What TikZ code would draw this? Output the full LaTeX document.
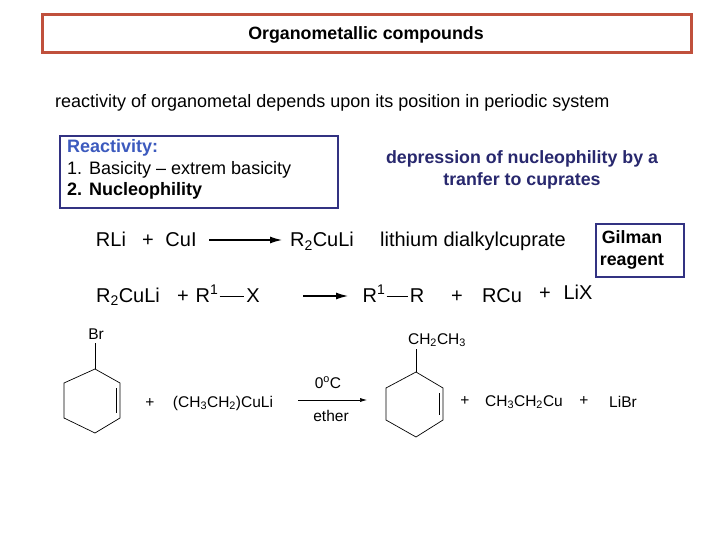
\documentclass[tikz,border=0pt]{standalone}
\usepackage{fontspec}
\setmainfont{Liberation Sans}
\usetikzlibrary{calc,arrows.meta}
\begin{document}
\begin{tikzpicture}[x=1pt,y=-1pt,
  chem/.style={font=\fontsize{20}{24}\selectfont, inner sep=0pt, text height=14pt, text depth=4pt},
  sm/.style={font=\fontsize{15.5}{18}\selectfont, inner sep=0pt, text height=11pt, text depth=3pt},
  txt/.style={font=\fontsize{18}{22}\selectfont, inner sep=0pt},
  bnd/.style={line width=0.7pt},
  arr/.style={line width=1.2pt,-{Latex[length=12pt,width=7pt]}}]
\useasboundingbox (0,0) rectangle (720,540);
\fill[white] (0,0) rectangle (720,540);
% title
\draw[draw={rgb,255:red,192;green,80;blue,60}, line width=3pt, fill={rgb,255:red,255;green,255;blue,255}] (42,15) rectangle (691,53);
\node[font=\bfseries\fontsize{17.8}{21}\selectfont] (title) at (366,35) {Organometallic compounds};
\node[txt, anchor=west] (intro) at (55,103) {reactivity of organometal depends upon its position in periodic system};
% reactivity box
\draw[draw={rgb,255:red,50;green,50;blue,130}, line width=1.5pt] (60,136) rectangle (338,208);
\node[txt, anchor=west, text={rgb,255:red,60;green,90;blue,190}, font=\bfseries\fontsize{18}{22}\selectfont] (r0) at (67,148) {Reactivity:};
\node[txt, anchor=west] (r1) at (67,170) {1.\hspace{7pt}Basicity -- extrem basicity};
\node[txt, anchor=west, font=\bfseries\fontsize{18}{22}\selectfont] (r2) at (67,191) {2.\hspace{7pt}Nucleophility};
\node[align=center, text={rgb,255:red,40;green,40;blue,110}, font=\bfseries\fontsize{17.8}{22}\selectfont] (dep) at (522,170) {depression of nucleophility by a\\tranfer to cuprates};
% Gilman
\draw[draw={rgb,255:red,50;green,50;blue,130}, line width=1.5pt] (596,224) rectangle (684,277);
\node[align=center, font=\bfseries\fontsize{17.8}{22}\selectfont] (gil) at (632,250) {Gilman\\reagent};
% eq1
\node[chem] (a1) at (111,242) {RLi};
\node[chem] (p1) at (148,242) {+};
\node[chem] (a2) at (181,242) {CuI};
\coordinate (s1) at (209,240); \coordinate (e1) at (282,240);
\draw[arr] (s1) -- (e1);
\node[chem] (a3) at (322,242) {R\textsubscript{2}CuLi};
\node[chem] (a4) at (473,242) {lithium dialkylcuprate};
% eq2
\node[chem] (b1) at (128,297) {R\textsubscript{2}CuLi};
\node[chem] (p2) at (183,297) {+};
\node[chem] (b2) at (207,297) {R\textsuperscript{1}};
\node[chem] (b3) at (253,297) {X};
\draw[bnd] ($(b2.east)+(1,-1)$) -- ($(b3.west)+(-2,-1)$);
\coordinate (s2) at (303,296); \coordinate (e2) at (348,296);
\draw[arr] (s2) -- (e2);
\node[chem] (b4) at (374,297) {R\textsuperscript{1}};
\node[chem] (b5) at (417,297) {R};
\draw[bnd] ($(b4.east)+(1,-1)$) -- ($(b5.west)+(-2,-1)$);
\node[chem] (p3) at (457,297) {+};
\node[chem] (b6) at (502,297) {RCu};
\node[chem] (p4) at (545,294) {+};
\node[chem] (b7) at (578,294) {LiX};
% reaction 3 left ring
\coordinate (l1) at (95,369); \coordinate (l2) at (120,383); \coordinate (l3) at (120,418);
\coordinate (l4) at (95,433); \coordinate (l5) at (64,418); \coordinate (l6) at (64,383);
\draw[bnd] (l1)--(l2)--(l3)--(l4)--(l5)--(l6)--cycle;
\draw[bnd] (116,388)--(116,413);
\node[sm] (br) at (96,335) {Br};
\draw[bnd] (l1) -- (95,343);
\node[sm] (p5) at (150,403) {+};
\node[sm] (c1) at (223,403) {(CH\textsubscript{3}CH\textsubscript{2})CuLi};
\coordinate (s3) at (298,400); \coordinate (e3) at (367,400);
\draw[line width=0.6pt,-{Latex[length=7pt,width=4pt]}] (s3) -- (e3);
\node[sm] (t1) at (328,384) {0\textsuperscript{o}C};
\node[sm] (t2) at (331,417) {ether};
% right ring
\coordinate (m1) at (416,372); \coordinate (m2) at (443,388); \coordinate (m3) at (443,420);
\coordinate (m4) at (416,437); \coordinate (m5) at (386,420); \coordinate (m6) at (386,388);
\draw[bnd] (m1)--(m2)--(m3)--(m4)--(m5)--(m6)--cycle;
\draw[bnd] (439,393)--(439,415);
\node[sm] (et) at (437,340) {CH\textsubscript{2}CH\textsubscript{3}};
\draw[bnd] (m1) -- (416,349);
\node[sm] (p6) at (465,401) {+};
\node[sm] (c2) at (524,402) {CH\textsubscript{3}CH\textsubscript{2}Cu};
\node[sm] (p7) at (584,401) {+};
\node[sm] (c3) at (623,403) {LiBr};
\end{tikzpicture}
\end{document}
